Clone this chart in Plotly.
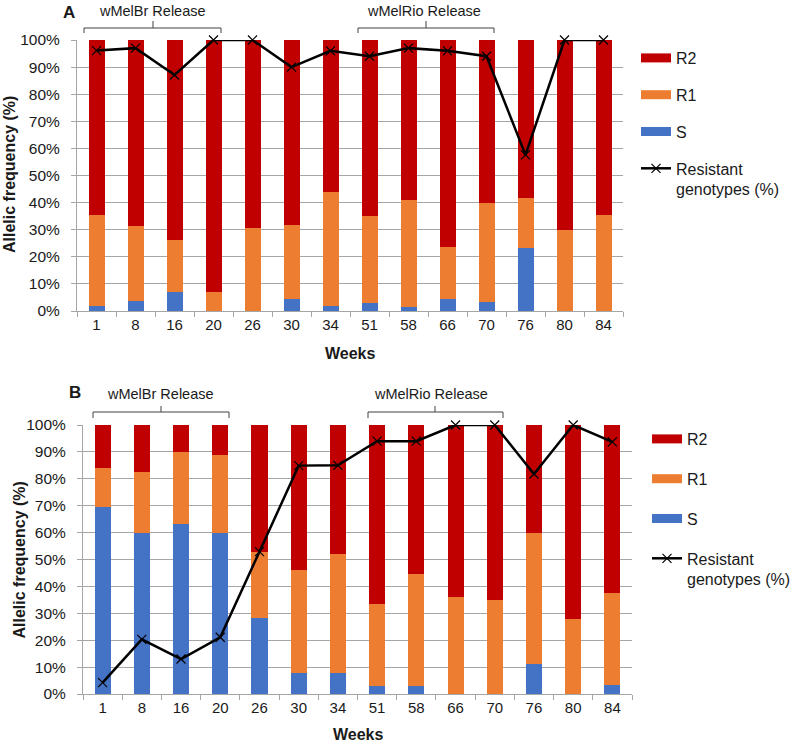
import plotly.graph_objects as go

W, H = 794, 743

weeks = ["1", "8", "16", "20", "26", "30", "34", "51", "58", "66", "70", "76", "80", "84"]
y_ticks = list(range(0, 101, 10))
y_tick_labels = [f"{v}%" for v in y_ticks]

# Panel A (segment heights, %)
a_S = [1.8, 3.7, 7.0, 0, 0, 4.5, 2.0, 2.9, 1.6, 4.3, 3.3, 23.3, 0, 0]
a_R1 = [33.8, 27.7, 19.2, 7.0, 30.5, 27.4, 42.0, 32.2, 39.2, 19.5, 36.6, 18.5, 30.0, 35.6]
a_R2 = [64.4, 68.6, 73.8, 93.0, 69.5, 68.1, 56.0, 64.9, 59.2, 76.2, 60.1, 58.2, 70.0, 64.4]
a_res = [96.1, 97, 87.1, 100, 100, 90, 96, 94, 97, 96, 94, 57.6, 100, 100]

# Panel B (segment heights, %)
b_S = [69.6, 60.0, 63.3, 59.7, 28.1, 7.7, 7.7, 3.0, 3.1, 0, 0, 11.2, 0, 3.3]
b_R1 = [14.3, 22.5, 26.7, 29.3, 24.7, 38.4, 44.4, 30.5, 41.5, 36.1, 34.9, 48.8, 28.0, 34.1]
b_R2 = [16.1, 17.5, 10.0, 11.0, 47.2, 53.9, 47.9, 66.5, 55.4, 63.9, 65.1, 40.0, 72.0, 62.6]
b_res = [4.2, 20.3, 13.0, 21.1, 52.9, 84.9, 85.0, 94.0, 94.0, 100, 100, 81.8, 100, 93.7]

C_R2, C_R1, C_S = "#C00000", "#ED7D31", "#4472C4"
FONT = "Liberation Sans, Arial, sans-serif"
TXT = "#1a1a1a"
GRID = "#A6A6A6"


def px(x):
    return x / W


def py(y):
    return 1 - y / H


fig = go.Figure()

panels = [
    ("x", "y", a_S, a_R1, a_R2, a_res, "legend"),
    ("x2", "y2", b_S, b_R1, b_R2, b_res, "legend2"),
]
for xa, ya, S, R1, R2, res, leg in panels:
    for name, vals, col in [("S", S, C_S), ("R1", R1, C_R1), ("R2", R2, C_R2)]:
        fig.add_trace(go.Bar(x=weeks, y=vals, marker_color=col, marker_line_width=0,
                             xaxis=xa, yaxis=ya, showlegend=False, name=name))
    fig.add_trace(go.Scatter(x=weeks, y=res, mode="lines+markers", xaxis=xa, yaxis=ya,
                             line=dict(color="black", width=2.5),
                             marker=dict(symbol="x-thin", size=9,
                                         line=dict(color="black", width=1.2)),
                             cliponaxis=False, showlegend=False))
    # legend entries
    for name, col in [("R2", C_R2), ("R1", C_R1), ("S", C_S)]:
        fig.add_trace(go.Scatter(x=[None], y=[None], mode="lines", name=name,
                                 line=dict(color=col, width=9), legend=leg,
                                 legendgroup=leg + name, xaxis=xa, yaxis=ya))
    fig.add_trace(go.Scatter(x=[None], y=[None], mode="lines+markers",
                             name="Resistant<br>genotypes (%)", legend=leg,
                             legendgroup=leg + "res", xaxis=xa, yaxis=ya,
                             line=dict(color="black", width=2.5),
                             marker=dict(symbol="x-thin", size=9,
                                         line=dict(color="black", width=1.2))))

ax_common = dict(showline=True, linecolor=GRID, linewidth=1, ticks="outside", ticklen=5,
                 tickcolor=GRID, automargin=False)
xcommon = dict(ax_common, type="category", tickson="boundaries", showgrid=False,
               range=[-0.5, len(weeks) - 0.5],
               tickfont=dict(family=FONT, size=15, color=TXT))
ycommon = dict(ax_common, range=[0, 100], tickmode="array", tickvals=y_ticks,
               ticktext=y_tick_labels, showgrid=True, gridcolor=GRID, gridwidth=1,
               zeroline=False, ticklabelstandoff=8,
               tickfont=dict(family=FONT, size=15.5, color=TXT))

legend_common = dict(font=dict(family=FONT, size=16, color=TXT), traceorder="grouped",
                     xanchor="left", yanchor="top", bgcolor="rgba(0,0,0,0)",
                     valign="top", itemwidth=30)

fig.update_layout(
    width=W, height=H, margin=dict(l=0, r=0, t=0, b=0, autoexpand=False),
    paper_bgcolor="white", plot_bgcolor="white",
    barmode="stack", bargap=0.59,
    xaxis=dict(xcommon, domain=[px(77), px(623)], anchor="y"),
    yaxis=dict(ycommon, domain=[py(311), py(40)], anchor="x"),
    xaxis2=dict(xcommon, domain=[px(83), px(632)], anchor="y2"),
    yaxis2=dict(ycommon, domain=[py(694), py(425)], anchor="x2"),
    legend=dict(legend_common, x=px(636), y=py(41), tracegroupgap=13),
    legend2=dict(legend_common, x=px(647), y=py(422), tracegroupgap=16),
)

ann = []


def text(x, y, s, size=14, bold=False, angle=0):
    ann.append(dict(x=px(x), y=py(y), xref="paper", yref="paper", showarrow=False,
                    text=f"<b>{s}</b>" if bold else s, textangle=angle,
                    xanchor="center", yanchor="middle",
                    font=dict(family=FONT, size=size, color=TXT)))


text(68.5, 12, "A", 17, True)
text(152.5, 11, "wMelBr Release", 14.5)
text(424, 11, "wMelRio Release", 14.5)
text(75, 392, "B", 17, True)
text(160, 394, "wMelBr Release", 14.5)
text(431, 394, "wMelRio Release", 14.5)
text(9, 175, "Allelic frequency (%)", 16, True, -90)
text(18.5, 560, "Allelic frequency (%)", 16, True, -90)
text(350, 353, "Weeks", 16, True)
text(358, 734, "Weeks", 16, True)

shapes = []


def bracket(xl, xr, xc, yt, yh, yb):
    path = (f"M{px(xl)},{py(yb)} L{px(xl)},{py(yh)} L{px(xr)},{py(yh)} L{px(xr)},{py(yb)} "
            f"M{px(xc)},{py(yh)} L{px(xc)},{py(yt)}")
    shapes.append(dict(type="path", path=path, xref="paper", yref="paper",
                       line=dict(color="#404040", width=1)))


bracket(84, 221, 153, 21, 28, 33)
bracket(358, 494, 426, 21, 28, 33)
bracket(93, 229, 161, 406, 412, 418)
bracket(368, 503, 435, 406, 412, 418)

fig.update_layout(annotations=ann, shapes=shapes)
# remove the default 8px page margin so the figure fills the window exactly
fig.write_html("out.html", config={"displayModeBar": False},
               post_script="document.body.style.margin='0px';")
